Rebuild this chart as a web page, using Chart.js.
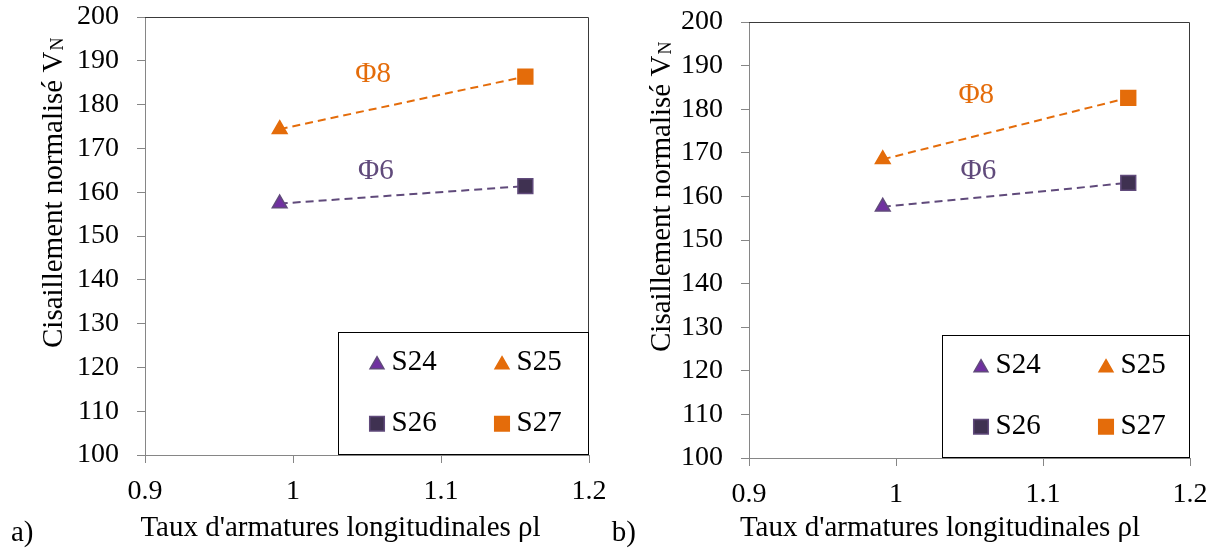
<!DOCTYPE html>
<html><head><meta charset="utf-8">
<script src="https://cdn.jsdelivr.net/npm/chart.js@4.4.1/dist/chart.umd.min.js"></script>
<style>
html,body{margin:0;padding:0;background:#fff;width:1215px;height:548px;overflow:hidden}
canvas{position:absolute;top:0}
.pre{font-family:"Liberation Serif",serif;position:absolute;left:-999px;top:0}
</style></head><body>
<span class="pre">Φ S24 0.9 ρ</span>
<canvas id="ca" width="605" height="548" style="left:0"></canvas>
<canvas id="cb" width="610" height="548" style="left:605px"></canvas>
<script>
// ---- data ----
const seriesNames = ['S24', 'S25', 'S26', 'S27'];
const rhoA = [0.991, 0.991, 1.157, 1.157];
const vnA  = [157.4, 174.4, 161.4, 186.4];
const rhoB = [0.991, 0.991, 1.158, 1.158];
const vnB  = [157.6, 168.5, 163.1, 182.6];
const phiNames = ['Φ8', 'Φ6'];
const xTickValues = [0.9, 1.0, 1.1, 1.2];
const xTickLabels = ['0.9', '1', '1.1', '1.2'];
const yTickValues = [100, 110, 120, 130, 140, 150, 160, 170, 180, 190, 200];
const yTickLabels = ['100', '110', '120', '130', '140', '150', '160', '170', '180', '190', '200'];
const xTitle = "Taux d'armatures longitudinales ρl";
const yTitleMain = 'Cisaillement normalisé V';
const yTitleSub = 'N';

// ---- styles ----
const FONT = '"Liberation Serif", "Times New Roman", Times, serif';
const ORANGE = '#E46C0A';
const AXIS = '#868686';
const markerStyles = [
  {shape: 'triangle', r: 8.5, bg: '#7030A0', border: '#604A7B'},
  {shape: 'triangle', r: 8.5, bg: ORANGE, border: ORANGE},
  {shape: 'rect', r: 10.5, bg: '#3F3151', border: '#604A7B'},
  {shape: 'rect', r: 10.5, bg: ORANGE, border: ORANGE}
];
const lineColors = {phi8: ORANGE, phi6: '#604A7B'};

function drawMarker(ctx, shape, x, y, r, bg, border) {
  ctx.save();
  ctx.beginPath();
  if (shape === 'triangle') {
    ctx.moveTo(x, y - r);
    ctx.lineTo(x + 0.866 * r, y + 0.5 * r);
    ctx.lineTo(x - 0.866 * r, y + 0.5 * r);
    ctx.closePath();
  } else {
    const s = r * Math.SQRT1_2;
    ctx.rect(x - s, y - s, 2 * s, 2 * s);
  }
  ctx.fillStyle = bg; ctx.fill();
  ctx.lineWidth = 1.5; ctx.strokeStyle = border; ctx.stroke();
  ctx.restore();
}

const decor = {
  id: 'decor',
  afterDraw(chart, args, o) {
    const ctx = chart.ctx, a = chart.chartArea;
    const xs = chart.scales.x, ys = chart.scales.y;
    ctx.save();
    ctx.strokeStyle = '#3a3a3a'; ctx.lineWidth = 1;
    ctx.beginPath();
    ctx.moveTo(a.left, a.top + 0.5); ctx.lineTo(a.right - 0.5, a.top + 0.5); ctx.lineTo(a.right - 0.5, a.bottom);
    ctx.stroke();
    ctx.font = '29px ' + FONT;
    ctx.textAlign = 'center'; ctx.textBaseline = 'middle';
    o.phi.forEach(p => {
      ctx.fillStyle = p.color;
      ctx.fillText(p.text, xs.getPixelForValue(p.x), ys.getPixelForValue(p.y));
    });
    const bx = a.right - o.legW, by = a.bottom - o.legH;
    ctx.fillStyle = '#fff';
    ctx.fillRect(bx, by, o.legW, o.legH);
    ctx.strokeStyle = '#000'; ctx.lineWidth = 1;
    ctx.strokeRect(Math.round(bx) + 0.5, Math.round(by) + 0.5, o.legW - 1, o.legH - 1);
    const cols = [[39, 53.5], [164, 178.5]], rows = [30.7, 91.7];
    ctx.font = '29px ' + FONT;
    ctx.textAlign = 'left'; ctx.textBaseline = 'middle';
    seriesNames.forEach((n, i) => {
      const c = cols[i % 2], rY = by + rows[Math.floor(i / 2)];
      const st = markerStyles[i];
      const yOff = st.shape === 'triangle' ? 2 : 0;
      drawMarker(ctx, st.shape, bx + c[0], rY + yOff, st.shape === 'triangle' ? 8 : 10.3, st.bg, st.border);
      ctx.fillStyle = '#000';
      ctx.fillText(n, bx + c[1], rY);
    });
    ctx.textAlign = 'center'; ctx.textBaseline = 'alphabetic';
    ctx.fillStyle = '#000';
    ctx.fillText(xTitle, o.xTitleX, 535.5);
    ctx.textAlign = 'left';
    ctx.fillText(o.panel, o.panelX, 541);
    ctx.save();
    ctx.translate(o.yTitleX, o.yTitleY);
    ctx.rotate(-Math.PI / 2);
    ctx.textAlign = 'left'; ctx.textBaseline = 'alphabetic';
    ctx.font = '29px ' + FONT;
    ctx.fillText(yTitleMain, 0, 0);
    const w = ctx.measureText(yTitleMain).width;
    ctx.font = '18px ' + FONT;
    ctx.fillText(yTitleSub, w + 1, 1);
    ctx.restore();
    ctx.restore();
  }
};

function makeChart(id, rho, vn, L) {
  const pts = rho.map((x, i) => ({x: x, y: vn[i]}));
  const datasets = seriesNames.map((n, i) => ({
    label: n, type: 'scatter', data: [pts[i]],
    pointStyle: markerStyles[i].shape, pointRadius: markerStyles[i].r,
    pointHoverRadius: markerStyles[i].r,
    backgroundColor: markerStyles[i].bg, borderColor: markerStyles[i].border,
    pointBorderWidth: 1.5
  }));
  datasets.push({label: 'phi8', type: 'line', data: [pts[1], pts[3]],
    borderColor: lineColors.phi8, borderWidth: 2, borderDash: [8, 5], pointRadius: 0, fill: false});
  datasets.push({label: 'phi6', type: 'line', data: [pts[0], pts[2]],
    borderColor: lineColors.phi6, borderWidth: 2, borderDash: [8, 5], pointRadius: 0, fill: false});
  const H = 548;
  return new Chart(document.getElementById(id), {
    type: 'scatter',
    data: {datasets},
    plugins: [decor],
    options: {
      responsive: false, animation: false,
      layout: {padding: {left: 0, right: L.padRight, top: L.top, bottom: 0}},
      plugins: {
        legend: {display: false}, tooltip: {enabled: false},
        decor: {
          phi: [
            {text: phiNames[0], x: L.phi8[0], y: L.phi8[1], color: lineColors.phi8},
            {text: phiNames[1], x: L.phi6[0], y: L.phi6[1], color: lineColors.phi6}
          ],
          legW: L.legW, legH: L.legH, xTitleX: L.xTitleX, panel: L.panel, panelX: L.panelX,
          yTitleX: L.yTitleX, yTitleY: L.yTitleY
        }
      },
      scales: {
        x: {
          type: 'linear', min: 0.9, max: 1.2,
          afterBuildTicks: s => { s.ticks = xTickValues.map(v => ({value: v})); },
          ticks: {callback: (v, i) => xTickLabels[i], font: {family: FONT, size: 28}, color: '#000', padding: 12, maxRotation: 0},
          grid: {drawOnChartArea: false, drawTicks: true, tickLength: 8, color: AXIS},
          border: {color: AXIS, width: 1},
          afterFit: s => { s.height = H - L.bottom; s.paddingLeft = 0; s.paddingRight = 0; }
        },
        y: {
          type: 'linear', min: 100, max: 200,
          afterBuildTicks: s => { s.ticks = yTickValues.map(v => ({value: v})); },
          ticks: {callback: (v, i) => yTickLabels[i], font: {family: FONT, size: 28}, color: '#000', padding: 18},
          grid: {drawOnChartArea: false, drawTicks: true, tickLength: 8, color: AXIS},
          border: {color: AXIS, width: 1},
          afterFit: s => { s.width = L.left; s.paddingTop = 0; s.paddingBottom = 0; }
        }
      }
    }
  });
}

function build() {
  makeChart('ca', rhoA, vnA, {
    left: 145, padRight: 16, top: 17, bottom: 455,
    phi8: [1.0542, 187.0], phi6: [1.056, 164.7],
    legW: 251, legH: 123, xTitleX: 340.5, panel: 'a)', panelX: 11,
    yTitleX: 62, yTitleY: 348
  });
  makeChart('cb', rhoB, vnB, {
    left: 144, padRight: 25, top: 22, bottom: 458,
    phi8: [1.0546, 183.1], phi6: [1.0561, 165.8],
    legW: 248, legH: 123, xTitleX: 335, panel: 'b)', panelX: 6.7,
    yTitleX: 65, yTitleY: 352
  });
}
const fl = (document.fonts && document.fonts.load)
  ? Promise.all([document.fonts.load('28px "Liberation Serif"', 'Φ0.9S24ρ'), document.fonts.ready]).catch(() => {})
  : Promise.resolve();
fl.then(build, build);
</script>
</body></html>
